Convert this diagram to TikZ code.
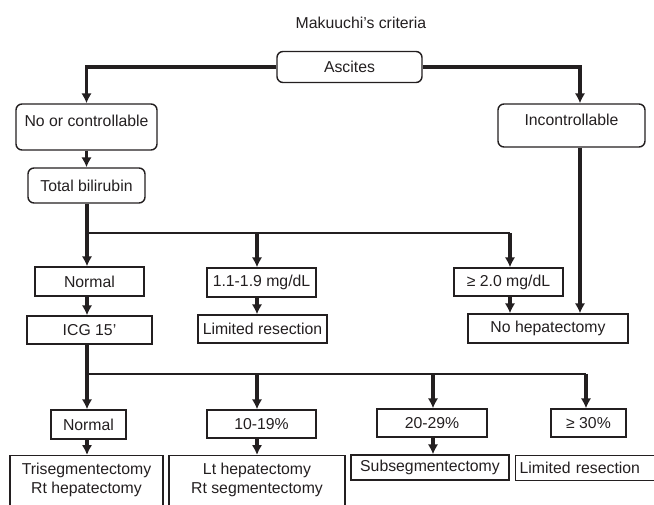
\documentclass[tikz,border=0pt]{standalone}
\usepackage{fontspec}
\setmainfont{Liberation Sans}
\usetikzlibrary{arrows.meta}
\definecolor{ink}{HTML}{231F20}

\tikzset{
	box/.style={draw=ink, line width=1.4pt, text=ink, inner sep=0pt},
	rbox/.style={box, rounded corners=6pt},
	flow/.style={draw=ink, line width=3.2pt, -{Latex[length=10pt,width=10.5pt]}},
	branch/.style={draw=ink, line width=1.4pt},
}

\begin{document}
\begin{tikzpicture}[x=1pt, y=-1pt, font=\fontsize{15.8}{19}\selectfont]
	\useasboundingbox (0,0) rectangle (654,505);
	\clip (0,0) rectangle (654,505);

	%title
	\node[text=ink] (title) at (361,23) {Makuuchi’s criteria};

	%ascites
	\node[rbox, minimum width=145pt, minimum height=31pt] (asc) at (349.5,67) {Ascites};
	\node[rbox, minimum width=141pt, minimum height=46pt, text height=11.5pt, text depth=13pt] (noc) at (86.5,127) {No or controllable};
	\node[rbox, minimum width=147pt, minimum height=43pt, text height=11.5pt, text depth=12pt] (inc) at (571.5,125.5) {Incontrollable};
	\node[rbox, minimum width=117pt, minimum height=35pt] (tb) at (86.5,185.5) {Total bilirubin};

	%bilirubin
	\node[box, minimum width=109pt, minimum height=29pt] (nb)  at (89.5,281.5) {Normal};
	\node[box, minimum width=109pt, minimum height=29pt] (mid) at (261.5,282.5) {1.1-1.9 mg/dL};
	\node[box, minimum width=109pt, minimum height=28pt] (hi)  at (508.5,282) {≥ 2.0 mg/dL};
	\node[box, minimum width=125pt, minimum height=28pt] (icg) at (89.5,330) {ICG 15’};
	\node[box, minimum width=129pt, minimum height=28pt] (lr1) at (262.5,329) {Limited resection};
	\node[box, minimum width=160pt, minimum height=29pt] (noh) at (548,328.5) {No hepatectomy};

	%ICG 15
	\node[box, minimum width=75pt,  minimum height=29pt] (n2)  at (88.5,424.5) {Normal};
	\node[box, minimum width=109pt, minimum height=28pt] (p10) at (261.5,424) {10-19\%};
	\node[box, minimum width=110pt, minimum height=28pt] (p20) at (432,423) {20-29\%};
	\node[box, minimum width=75pt,  minimum height=28pt] (p30) at (588.5,423) {≥ 30\%};

	%procedures
	\node[box, anchor=north, minimum width=153pt, inner ysep=7pt, text depth=40pt, align=center] (tri) at (86.5,455) {Trisegmentectomy\\Rt hepatectomy};
	\node[box, anchor=north, minimum width=176pt, inner ysep=7pt, text depth=40pt, align=center] (lt)  at (257,455) {Lt hepatectomy\\Rt segmentectomy};
	\node[box, minimum width=158pt, minimum height=25pt] (sub) at (430,467.5) {Subsegmentectomy};
	\node[box, anchor=north west, text width=150pt, minimum height=25pt, inner xsep=4pt, align=left] (lr2) at (515,455) {Limited resection};

	%junctions
	\coordinate (rcol) at (580,0);
	\coordinate (b0) at (87,233);
	\coordinate (b1) at (257,233);
	\coordinate (b2) at (510,233);
	\coordinate (c0) at (87,374);
	\coordinate (c1) at (257,374);
	\coordinate (c2) at (433,374);
	\coordinate (c3) at (586,374);

	%arrows
	\draw[flow] (asc.west) -| (noc.north);
	\draw[flow] (asc.east) -| (rcol |- inc.north);
	\draw[flow] (noc.south) -- (tb.north);
	\draw[flow] (rcol |- inc.south) -- (rcol |- noh.north);	%incontrollable
	%
	\draw[flow] (b0 |- tb.south) -- (b0 |- nb.north);
	\draw[branch] (b0) -- (b2);
	\draw[flow] (b1) -- (b1 |- mid.north);
	\draw[flow] (b2) -- (b2 |- hi.north);
	\draw[flow] (b0 |- nb.south) -- (b0 |- icg.north);
	\draw[flow] (b1 |- mid.south) -- (b1 |- lr1.north);
	\draw[flow] (b2 |- hi.south) -- (b2 |- noh.north);
	%
	\draw[flow] (c0 |- icg.south) -- (c0 |- n2.north);
	\draw[branch] (c0) -- (c3);
	\draw[flow] (c1) -- (c1 |- p10.north);
	\draw[flow] (c2) -- (c2 |- p20.north);
	\draw[flow] (c3) -- (c3 |- p30.north);
	\draw[flow] (c0 |- n2.south) -- (c0 |- tri.north);
	\draw[flow] (c1 |- p10.south) -- (c1 |- lt.north);
	\draw[flow] (c2 |- p20.south) -- (c2 |- sub.north);
\end{tikzpicture}
\end{document}
